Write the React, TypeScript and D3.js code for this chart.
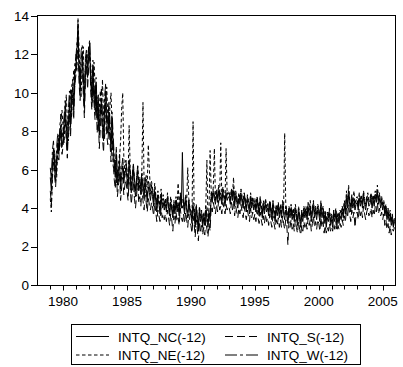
import React from "react";
import * as d3 from "d3";

const startYear = 1979;
const yTicks = [0, 2, 4, 6, 8, 10, 12, 14];
const xMajor = [1980, 1985, 1990, 1995, 2000, 2005];
const seriesNames = ["INTQ_NC(-12)", "INTQ_NE(-12)", "INTQ_S(-12)", "INTQ_W(-12)"];

const nc = [
  5.6,4.9,6.3,7.1,6.0,5.4,6.6,7.4,6.8,7.9,8.3,7.2,
  7.6,8.4,9.2,8.0,7.0,8.6,9.5,8.2,9.8,10.3,9.1,10.9,
  11.4,12.2,13.6,11.0,10.1,11.8,12.1,10.4,9.2,11.3,12.0,10.8,
  11.9,12.6,10.5,9.6,11.2,10.0,9.1,10.4,8.6,9.4,7.8,8.9,
  9.7,8.2,7.5,9.3,10.1,8.4,7.9,9.0,8.1,7.0,8.6,7.4,
  6.3,5.6,6.8,5.2,5.9,6.4,5.0,5.7,6.2,5.3,5.8,6.1,
  5.5,5.0,6.2,5.7,4.8,5.4,6.0,5.1,4.6,5.3,5.9,4.9,
  5.2,4.7,5.6,5.0,4.5,5.3,4.9,4.3,5.1,4.8,4.4,4.9,
  4.6,4.1,4.9,4.4,3.8,4.5,4.2,3.7,4.6,4.0,4.3,3.9,
  4.2,3.8,4.5,4.0,3.6,4.3,3.9,3.5,4.1,3.7,4.4,3.8,
  4.1,3.6,4.6,4.0,6.9,4.2,3.7,4.4,3.9,3.5,4.3,3.8,
  3.6,3.2,4.1,3.7,3.0,3.9,3.4,2.8,3.8,3.3,3.6,3.0,
  3.5,3.1,3.9,3.4,3.0,3.7,3.3,4.6,4.3,4.8,4.5,4.2,
  4.7,4.3,4.9,4.4,4.6,4.2,4.8,4.5,4.1,4.7,4.4,4.6,
  4.5,4.2,4.8,4.4,4.9,4.1,4.6,4.3,4.0,4.5,4.2,4.7,
  4.3,4.0,4.6,4.2,3.8,4.4,4.1,3.7,4.5,4.0,4.3,3.9,
  4.2,3.8,4.4,4.0,3.6,4.3,3.9,3.5,4.1,3.7,4.2,3.8,
  4.0,3.6,4.2,3.8,3.4,4.1,3.7,3.3,3.9,3.6,4.0,3.5,
  3.9,3.5,4.1,3.7,3.4,3.9,3.6,3.2,3.8,3.5,3.9,3.4,
  3.7,3.3,3.9,3.5,3.1,3.8,3.4,3.0,3.6,3.3,3.8,3.5,
  3.8,3.4,4.0,3.6,3.9,3.3,3.7,4.1,3.5,3.8,3.4,3.9,
  3.7,3.3,4.0,3.5,3.8,3.2,3.6,3.0,3.5,3.3,3.7,3.1,
  3.4,3.0,3.6,3.3,3.7,3.1,3.5,3.2,3.6,3.4,3.8,3.5,
  4.1,3.7,4.5,4.0,4.7,4.2,3.8,4.4,4.0,4.3,3.9,4.2,
  4.3,3.9,4.5,4.1,4.4,4.0,4.6,4.2,3.9,4.3,4.5,4.1,
  4.2,4.5,4.0,4.4,4.1,4.6,4.3,4.8,4.2,4.5,4.0,4.3,
  3.9,4.2,3.6,3.9,3.4,3.7,3.3,3.6,3.1,3.4,3.0,3.3,
];

const ne = [
  4.5,3.8,5.5,6.4,7.0,6.1,5.6,7.0,7.8,7.2,8.6,9.1,
  8.2,7.4,8.8,9.9,8.5,7.5,9.0,10.2,8.7,10.0,11.2,10.3,
  12.0,11.1,13.9,12.3,10.6,9.8,11.7,12.4,10.0,10.9,11.5,11.9,
  12.3,12.0,11.4,10.2,9.5,11.6,10.5,9.0,9.8,8.3,9.2,10.1,
  9.0,10.7,8.8,7.6,9.6,10.3,8.7,8.0,9.3,10.0,8.3,6.2,
  5.9,6.5,5.3,6.0,5.4,6.6,7.5,9.2,10.0,6.7,5.6,6.3,
  6.0,5.4,8.3,6.1,5.1,5.8,6.3,5.5,4.9,5.6,6.2,5.3,
  5.6,5.0,6.1,9.5,5.4,4.8,5.7,5.2,7.3,6.0,4.9,5.4,
  5.0,4.5,5.3,4.7,4.2,4.9,4.5,4.0,5.0,4.4,4.7,4.2,
  4.5,4.1,4.8,4.3,3.9,4.6,4.2,3.8,4.4,4.0,4.6,4.1,
  5.3,3.9,4.7,4.2,4.0,4.5,4.1,4.7,4.3,6.1,4.5,4.0,
  3.9,3.5,8.5,4.1,3.3,4.2,3.7,3.1,4.1,3.6,3.9,3.3,
  3.8,3.4,4.2,6.5,3.3,4.0,7.0,4.9,4.6,5.1,7.1,4.5,
  5.0,4.6,5.2,4.7,7.4,4.5,5.1,4.8,4.4,7.1,4.7,4.9,
  4.8,4.5,5.0,4.7,5.6,4.4,4.9,4.6,4.3,4.8,4.5,5.0,
  4.6,4.3,4.8,4.5,4.1,4.7,4.4,4.0,4.8,4.3,4.6,4.2,
  4.5,4.1,4.6,4.3,3.9,4.6,4.2,3.8,4.4,4.0,4.5,4.1,
  4.3,3.9,4.4,4.1,3.7,4.4,4.0,3.6,4.2,3.9,4.3,3.8,
  4.2,3.8,4.4,4.0,7.9,4.2,3.9,3.5,4.1,3.8,4.2,3.7,
  4.0,3.6,4.2,3.8,3.4,4.1,3.7,3.3,3.9,3.6,4.1,3.8,
  4.1,3.7,4.3,3.9,4.4,3.6,4.0,4.4,3.8,4.1,3.7,4.2,
  4.0,3.6,4.4,3.8,4.1,3.5,3.9,3.3,3.8,3.6,4.0,3.4,
  3.7,3.3,3.9,3.6,4.0,3.4,3.8,3.5,3.9,3.7,4.1,3.8,
  4.4,4.0,4.9,4.3,5.2,4.5,4.1,4.7,4.3,4.9,4.2,4.5,
  4.6,4.2,4.8,4.4,4.7,4.3,4.9,4.5,4.2,4.6,4.8,4.4,
  4.5,4.8,4.3,4.7,4.4,4.9,4.6,5.2,4.5,4.8,4.3,4.6,
  4.2,4.4,3.9,4.2,3.7,4.0,3.6,3.9,3.4,3.7,3.2,3.5,
];

const s = [
  4.9,4.2,5.8,6.8,5.7,5.1,6.2,7.1,6.5,7.5,7.9,6.8,
  7.2,8.0,8.6,7.5,6.6,8.2,8.9,7.7,9.3,9.7,8.6,10.4,
  10.9,11.6,12.9,10.5,9.6,11.2,11.5,9.9,8.7,10.7,11.4,10.2,
  11.3,12.1,10.0,9.1,10.7,9.5,8.6,9.9,7.9,8.8,7.1,8.2,
  9.1,7.6,6.9,8.7,9.5,7.8,7.3,8.4,7.5,6.4,8.0,6.6,
  5.5,5.0,6.1,4.6,5.2,5.8,4.4,5.1,5.6,4.7,5.2,5.5,
  4.9,4.4,5.6,5.1,4.2,4.8,5.4,4.5,4.0,4.7,5.3,4.3,
  4.6,4.1,5.0,4.4,3.9,4.7,4.3,3.8,4.5,4.2,3.9,4.3,
  4.0,3.6,4.3,3.8,3.3,3.9,3.6,3.3,4.0,3.5,3.7,3.4,
  3.7,3.3,3.9,3.5,3.1,3.7,3.4,2.8,3.6,3.2,3.8,3.3,
  3.5,3.1,4.0,3.5,3.3,3.7,3.2,3.8,3.4,3.0,3.7,3.3,
  3.1,2.7,3.6,3.2,2.5,3.4,2.9,2.3,3.3,2.8,3.1,2.6,
  3.0,2.6,3.4,2.9,2.5,3.2,2.8,4.1,3.8,4.3,4.0,3.7,
  4.2,3.8,4.4,3.9,4.1,3.7,4.3,4.0,3.7,4.2,3.9,4.1,
  4.0,3.7,4.3,3.9,4.4,3.6,4.1,3.8,3.5,4.0,3.7,4.2,
  3.8,3.5,4.1,3.7,3.4,3.9,3.6,3.3,4.0,3.5,3.8,3.4,
  3.7,3.3,3.9,3.5,3.2,3.8,3.4,3.1,3.6,3.2,3.7,3.3,
  3.5,3.1,3.7,3.3,3.0,3.6,3.2,2.9,3.4,3.1,3.5,3.0,
  3.4,3.0,3.6,3.2,2.9,3.4,3.1,2.1,3.3,3.0,3.4,2.9,
  3.2,2.8,3.4,3.0,2.7,3.3,2.9,2.6,3.1,2.8,3.3,3.0,
  3.3,2.9,3.5,3.1,3.4,2.8,3.2,3.6,3.0,3.3,2.9,3.4,
  3.2,2.8,3.5,3.0,3.3,2.7,3.1,2.7,3.0,2.8,3.2,2.8,
  3.0,2.8,3.2,2.9,3.3,2.8,3.1,2.9,3.2,3.0,3.4,3.1,
  3.6,3.3,4.0,3.5,4.2,3.7,3.3,3.9,3.5,3.8,3.0,3.7,
  3.8,3.4,4.0,3.6,3.9,3.5,4.1,3.7,3.4,3.8,4.0,3.6,
  3.7,4.0,3.5,3.9,3.6,4.1,3.8,4.3,3.7,4.0,3.6,3.8,
  3.4,3.7,3.1,3.4,2.9,3.2,2.7,3.1,2.6,2.9,2.8,3.0,
];

const w = [
  6.1,5.5,7.0,7.5,6.4,5.9,7.2,7.9,7.0,8.3,8.9,7.7,
  8.0,8.8,9.6,8.4,7.3,9.1,10.1,8.6,10.3,10.7,9.6,11.5,
  11.8,12.6,13.2,11.6,10.5,12.2,12.5,10.9,9.7,11.8,12.3,11.3,
  12.4,12.75,11.0,10.1,11.7,10.5,9.6,10.8,9.1,9.9,8.3,9.4,
  10.2,8.7,8.0,9.8,10.5,8.9,8.4,9.5,8.6,7.5,9.0,7.8,
  6.7,6.0,7.2,5.6,6.3,6.8,5.4,6.1,6.6,5.7,6.2,6.5,
  5.8,5.3,6.5,6.0,5.1,5.7,6.3,5.4,4.9,5.6,6.2,5.2,
  5.5,5.0,5.9,5.3,4.8,5.6,5.2,4.6,5.4,5.1,4.7,5.2,
  4.8,4.3,5.1,4.6,4.0,4.7,4.4,3.9,4.8,4.2,4.5,4.1,
  4.4,4.0,4.6,4.2,3.8,4.5,4.1,3.7,4.3,3.9,4.5,4.0,
  4.3,3.8,4.8,4.2,4.5,4.4,3.9,4.6,4.1,3.7,4.5,4.0,
  3.8,3.4,4.3,3.9,3.2,4.1,3.6,3.0,4.0,3.5,3.8,3.2,
  3.7,3.3,4.1,3.6,3.2,3.9,3.5,4.8,4.5,5.0,4.7,4.4,
  4.9,4.5,5.1,4.6,4.8,4.4,5.0,4.7,4.3,4.9,4.6,4.8,
  4.7,4.4,5.0,4.6,5.1,4.3,4.8,4.5,4.2,4.7,4.4,4.9,
  4.5,4.2,4.8,4.4,4.0,4.6,4.3,3.9,4.7,4.2,4.5,4.1,
  4.4,4.0,4.6,4.2,3.8,4.5,4.1,3.7,4.3,3.9,4.4,4.0,
  4.2,3.8,4.4,4.0,3.6,4.3,3.9,3.5,4.1,3.8,4.2,3.7,
  4.1,3.7,4.3,3.9,3.6,4.1,3.8,3.4,4.0,3.7,4.1,3.6,
  3.9,3.5,4.1,3.7,3.3,4.0,3.6,3.2,3.8,3.5,4.0,3.7,
  4.0,3.6,4.2,3.8,4.1,3.5,3.9,4.3,3.7,4.0,3.6,4.1,
  3.9,3.5,4.2,3.7,4.0,3.4,3.8,3.2,3.7,3.5,3.9,3.3,
  3.6,3.2,3.8,3.5,3.9,3.3,3.7,3.4,3.8,3.6,4.0,3.7,
  4.3,3.9,4.7,4.2,4.9,4.4,4.0,4.6,4.2,4.5,4.1,4.4,
  4.5,4.1,4.7,4.3,4.6,4.2,4.8,4.4,4.1,4.5,4.7,4.3,
  4.4,4.7,4.2,4.6,4.3,4.8,4.5,5.0,4.4,4.7,4.2,4.5,
  4.1,4.3,3.8,4.1,3.6,3.9,3.5,3.8,3.3,3.6,3.1,3.4,
];

const seriesValues = [nc, ne, s, w];
const dashes = ["", "3.5,2.5", "8,4", "12,3,3,3"];

const FONT = "'Liberation Sans', Arial, sans-serif";

export default function App() {
  const left = 37.5, right = 395.5, top = 15.5, bottom = 285.5;
  const x = d3.scaleLinear().domain([1978, 2006]).range([left, right]);
  const y = d3.scaleLinear().domain([0, 14]).range([285, 16]);
  const line = d3
    .line<number>()
    .x((_, i) => x(startYear + i / 12))
    .y((v) => y(v));
  const minorYears = d3.range(1979, 2006);

  const legendItems = [
    { name: seriesNames[0], dash: dashes[0], lx: 76, ty: 341.5 },
    { name: seriesNames[2], dash: dashes[2], lx: 225, ty: 341.5 },
    { name: seriesNames[1], dash: dashes[1], lx: 76, ty: 360 },
    { name: seriesNames[3], dash: dashes[3], lx: 225, ty: 360 },
  ];

  return (
    <svg
      width={403}
      height={367}
      style={{ position: "absolute", left: 0, top: 0, background: "#fff" }}
      fontFamily={FONT}
    >
      <rect x={0} y={0} width={403} height={367} fill="#fff" />
      <defs>
        <clipPath id="plotclip">
          <rect x={left} y={top} width={right - left} height={bottom - top} />
        </clipPath>
      </defs>
      <g clipPath="url(#plotclip)">
        {seriesValues.map((vals, k) => (
          <path
            key={k}
            d={line(vals) || ""}
            fill="none"
            stroke="#000"
            strokeWidth={1}
            strokeDasharray={dashes[k] || undefined}
          />
        ))}
      </g>
      <rect
        x={left}
        y={top}
        width={right - left}
        height={bottom - top}
        fill="none"
        stroke="#000"
        strokeWidth={1}
      />
      {yTicks.map((t) => (
        <g key={t}>
          <line x1={31} x2={left} y1={Math.round(y(t)) + 0.5} y2={Math.round(y(t)) + 0.5} stroke="#000" />
          <text x={29} y={y(t) + 4.8} textAnchor="end" fontSize={13.5} fill="#000">
            {t}
          </text>
        </g>
      ))}
      {minorYears.map((yr) => (
        <line
          key={yr}
          x1={Math.round(x(yr)) + 0.5}
          x2={Math.round(x(yr)) + 0.5}
          y1={bottom}
          y2={xMajor.includes(yr) ? bottom + 5 : bottom + 4}
          stroke="#000"
        />
      ))}
      {xMajor.map((yr) => (
        <text key={yr} x={x(yr)} y={305.5} textAnchor="middle" fontSize={13.5} fill="#000">
          {yr}
        </text>
      ))}
      <rect x={71.5} y={324.5} width={289} height={40} fill="none" stroke="#000" strokeWidth={1} />
      {legendItems.map((it, i) => (
        <g key={i}>
          <line
            x1={it.lx}
            x2={it.lx + 33}
            y1={it.ty - 5}
            y2={it.ty - 5}
            stroke="#000"
            strokeDasharray={it.dash || undefined}
          />
          <text x={it.lx + 42} y={it.ty} fontSize={13.5} fill="#000">
            {it.name}
          </text>
        </g>
      ))}
    </svg>
  );
}
